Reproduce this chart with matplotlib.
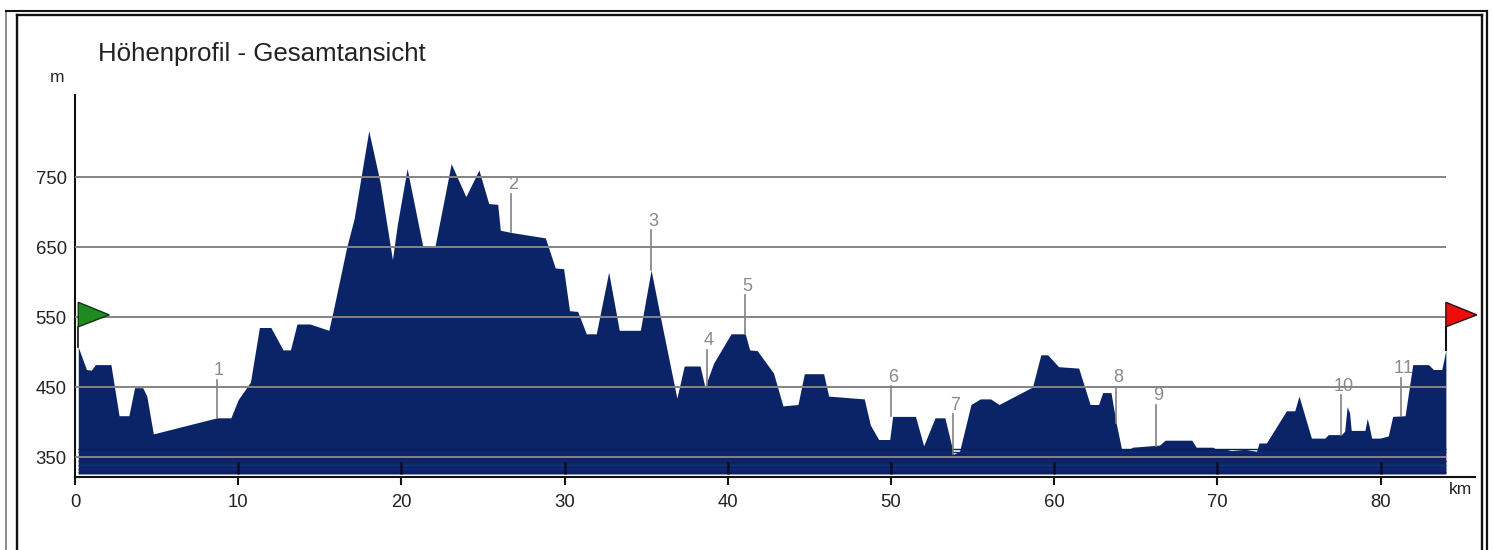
import matplotlib
matplotlib.use('Agg')
import matplotlib.pyplot as plt
from matplotlib.lines import Line2D

plt.rcParams['font.family'] = ['Liberation Sans', 'DejaVu Sans']
plt.rcParams['text.kerning_factor'] = 6

# ============================
# profile
km = [0.2, 0.7, 1.0, 1.25, 2.2, 2.7, 3.3, 3.65, 4.15, 4.4, 4.8, 8.7, 9.55, 10.0, 10.75,
      11.3, 12.0, 12.75, 13.2, 13.6, 14.4, 15.55, 15.85, 16.65, 17.1, 18.0, 18.7, 19.45,
      19.75, 20.35, 21.3, 22.05, 23.05, 23.95, 24.75, 25.35, 25.9, 26.06, 26.67, 28.82,
      29.43, 29.94, 30.3, 30.8, 31.33, 31.94, 32.7, 33.35, 34.64, 35.3, 35.86, 36.88,
      37.33, 38.3, 38.6, 39.13, 40.2, 41.07, 41.34, 41.8, 42.8, 43.38, 44.3, 44.69,
      45.87, 46.18, 48.36, 48.73, 49.24, 49.92, 50.1, 51.5, 52.0, 52.7, 53.3, 53.84,
      54.2, 54.9, 55.47, 56.1, 56.62, 58.67, 59.18, 59.6, 60.27, 61.5, 62.2, 62.72,
      62.97, 63.48, 63.8, 64.13, 64.6, 64.8, 66.45, 66.8, 68.43, 68.7, 69.72, 69.93,
      70.54, 70.85, 71.67, 72.4, 72.55, 73.0, 74.23, 74.74, 75.0, 75.76, 76.58, 76.8,
      77.6, 77.8, 77.95, 78.1, 78.2, 79.04, 79.18, 79.3, 79.45, 79.96, 80.47, 80.74,
      81.5, 81.97, 82.93, 83.24, 83.75, 84.0]
elev = [507, 475, 474, 482, 482, 409, 409, 449, 449, 437, 383, 406, 406, 432, 457,
        535, 535, 503, 503, 540, 540, 531, 562, 650, 690, 816, 742, 632,
        682, 762, 652, 650, 769, 722, 760, 712, 711, 674, 671, 663,
        620, 619, 559, 558, 526, 526, 614, 531, 531, 617, 551, 434,
        480, 480, 450, 484, 526, 526, 503, 502, 470, 423, 425, 469,
        469, 437, 433, 396, 375, 375, 408, 408, 366, 406, 406, 354,
        358, 425, 433, 433, 425, 450, 496, 496, 479, 477, 425, 425,
        442, 442, 398, 361, 361, 364, 367, 374, 374, 364, 364, 361,
        361, 359, 361, 358, 370, 370, 416, 416, 437, 377, 377, 382,
        382, 387, 422, 413, 388, 388, 405, 394, 377, 377, 380, 408,
        409, 482, 482, 475, 475, 503]

# way points: number, km, foot of the line, head of the line
point_nr = ['1', '2', '3', '4', '5', '6', '7', '8', '9', '10', '11']
point_km = [8.7, 26.7, 35.3, 38.7, 41.07, 50.0, 53.8, 63.8, 66.24, 77.6, 81.25]
point_foot = [406, 671, 617, 450, 526, 408, 354, 398, 366, 382, 409]
point_head = [460, 726, 674, 503, 581, 451, 411, 450, 425, 438, 463]

y_ticks = [350, 450, 550, 650, 750]
x_ticks = [0, 10, 20, 30, 40, 50, 60, 70, 80]

W, H = 1492, 550
PX_KM = 16.32   # pixels per km
PX_M = 0.70     # pixels per m

fig = plt.figure(figsize=(W / 100, H / 100), dpi=100, facecolor='white')
# axes box: x 75..1475 px, y 95..477 px
ax = fig.add_axes([75 / W, 1 - 477 / H, 1400 / W, 382 / H])
ax.set_xlim(0, 1400 / PX_KM)
ax.set_ylim(350 - 20 / PX_M, 350 + 362 / PX_M)
ax.patch.set_alpha(0)

bottom = 350 - 17 / PX_M
ax.fill_between(km, elev, bottom, color='#0b2468', lw=0, zorder=2)

# darker/lighter stripes at the foot of the profile, as in the picture
for y_px, col in [(449, '#082058'), (452, '#0e2a78'), (461, '#1a1a6e'),
                  (465, '#0b3a70'), (469, '#20207a'), (472, '#0a1f60')]:
    yy = 350 - (y_px - 457) / PX_M
    ax.plot([0.2, 84], [yy, yy], color=col, lw=1, zorder=2.5, solid_capstyle='butt')

# grid on top of the profile
for y in y_ticks:
    ax.plot([0, 84], [y, y], color='#848484', lw=1.4, zorder=3, solid_capstyle='butt')

# way points
for nr, x, foot, head in zip(point_nr, point_km, point_foot, point_head):
    ax.plot([x, x], [foot, head], color='#808080', lw=1.2, zorder=3)
    ax.text(x + 0.13, head + 13, nr, color='#8a8a8a', fontsize=13,
            ha='center', va='center', zorder=4)

# axes
for side in ['top', 'right']:
    ax.spines[side].set_visible(False)
for side in ['left', 'bottom']:
    ax.spines[side].set_linewidth(1.5)
    ax.spines[side].set_color('#111111')
ax.set_xticks(x_ticks)
ax.set_yticks(y_ticks)
ax.tick_params(axis='y', length=0, pad=6, labelsize=13.3, labelcolor='#222222')
ax.tick_params(axis='x', length=6, width=1.5, direction='out', pad=6, labelsize=13.3,
               labelcolor='#222222', color='#111111')
# tick marks run on up into the profile
for tick in x_ticks[1:]:
    ax.plot([tick, tick], [bottom, 343], color='#0a0a22', lw=1.8, zorder=4, solid_capstyle='butt')

# start and finish flags
ax.plot([0.2, 0.2], [507, 536], color='#111111', lw=1.2, zorder=4)
ax.fill([0.2, 2.1, 0.2], [571, 553, 536], facecolor='#1f8a1f', edgecolor='#123312', lw=1,
        zorder=5, clip_on=False)
ax.plot([84, 84], [503, 536], color='#111111', lw=1.5, zorder=4)
ax.fill([84, 85.9, 84], [571, 553, 536], facecolor='#f00c0c', edgecolor='#221111', lw=1,
        zorder=5, clip_on=False)

# texts
fig.text(98 / W, 1 - 54 / H, 'Höhenprofil - Gesamtansicht', fontsize=18.6, color='#222222',
         ha='left', va='center')
fig.text(57 / W, 1 - 77 / H, 'm', fontsize=12.5, color='#222222', ha='center', va='center')
fig.text(1461 / W, 1 - 489 / H, 'km', fontsize=12.5, color='#222222', ha='center', va='center')


# double frame round the picture, open at the bottom
def frame_line(x0, y0, x1, y1, col, lw):
    fig.add_artist(Line2D([x0 / W, x1 / W], [1 - y0 / H, 1 - y1 / H], color=col, lw=lw))


frame_line(5.5, 550, 5.5, 11, '#777777', 1.2)
frame_line(5.5, 11, 1487, 11, '#111111', 1.5)
frame_line(1486.5, 11, 1486.5, 550, '#111111', 1.6)
frame_line(17, 550, 17, 15, '#111111', 1.7)
frame_line(17, 15, 1482, 15, '#111111', 1.7)
frame_line(1482, 15, 1482, 550, '#111111', 1.7)

fig.savefig('out.png', dpi=100)
